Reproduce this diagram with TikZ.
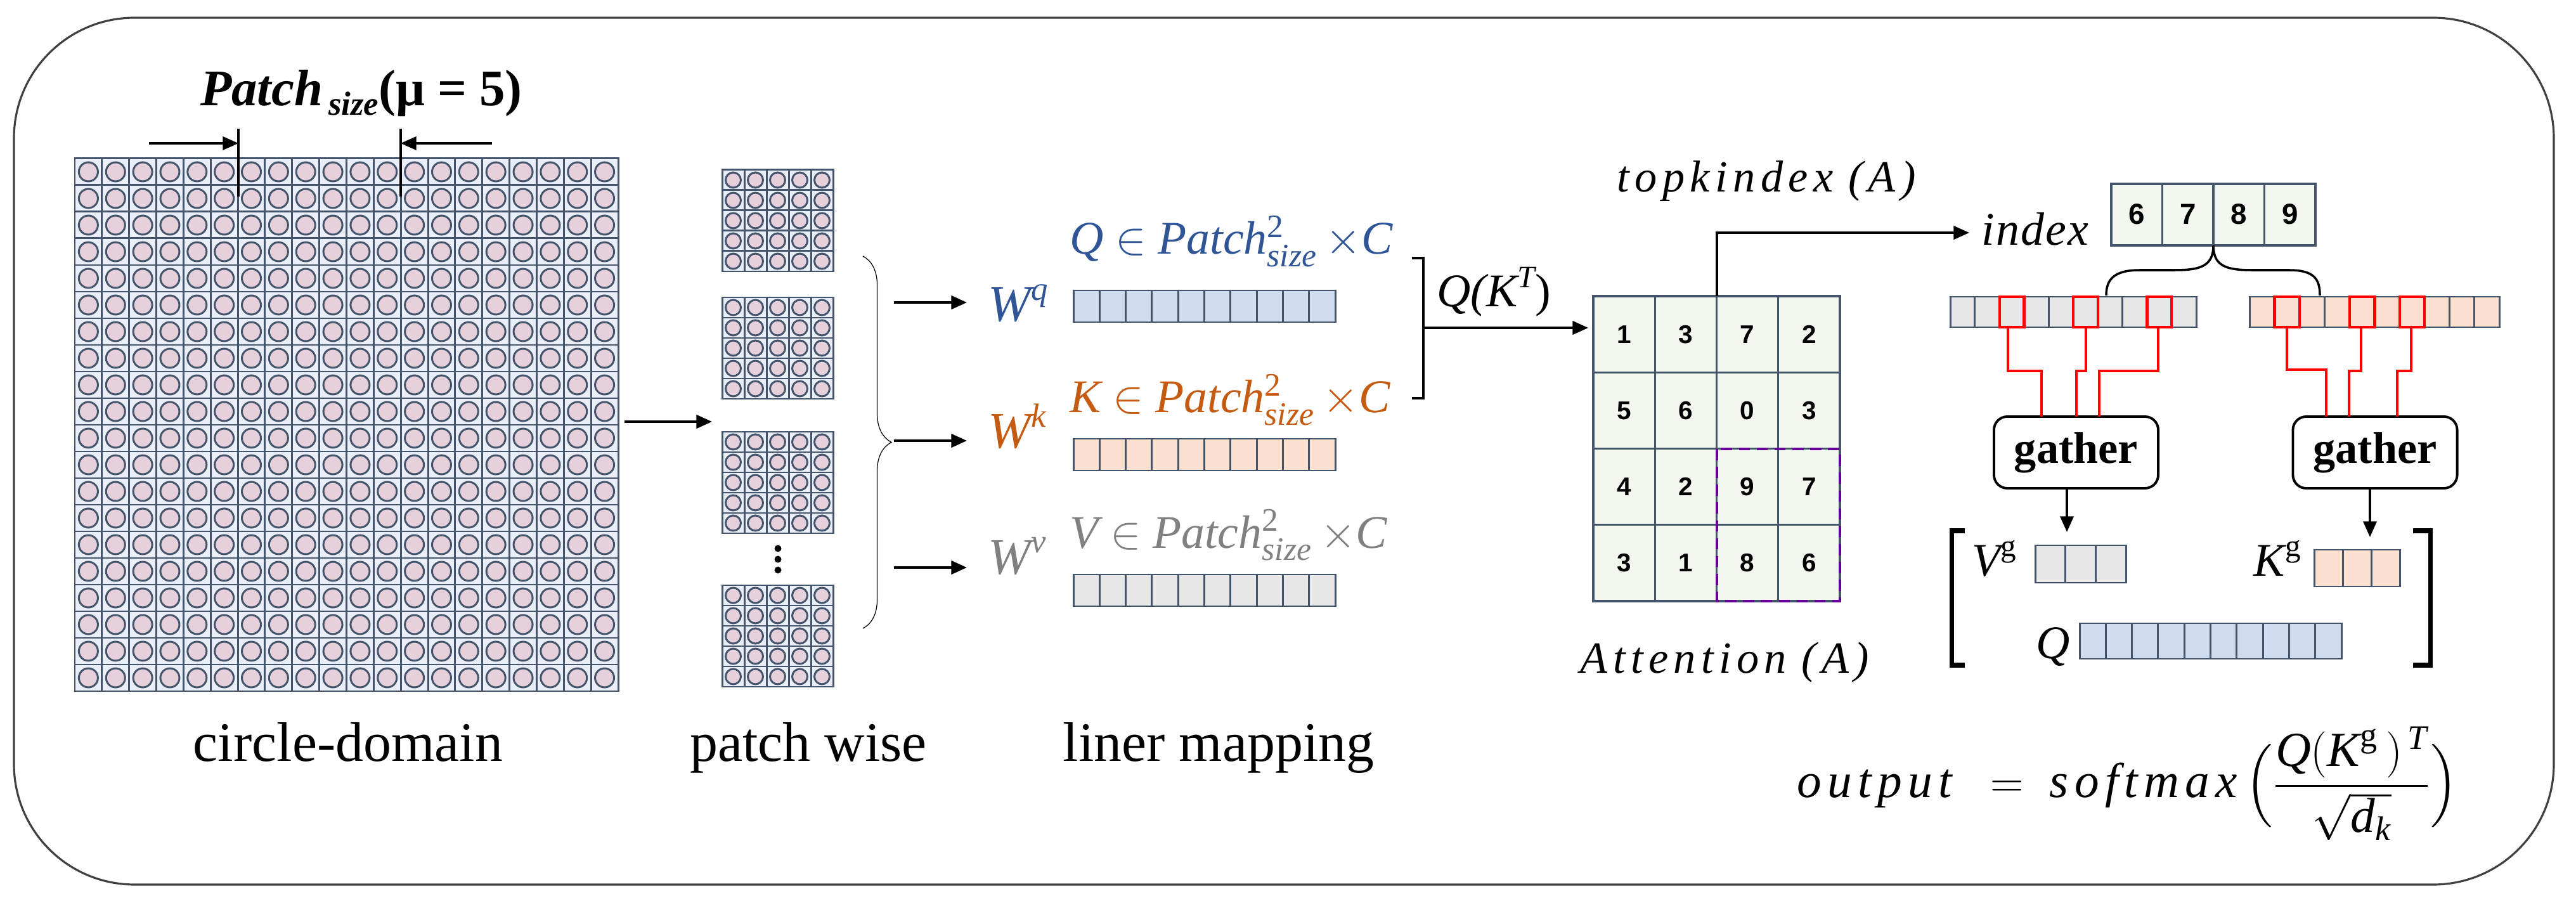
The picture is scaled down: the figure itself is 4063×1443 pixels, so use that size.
\documentclass[tikz,border=0pt]{standalone}
\usepackage{fontspec}
\usepackage{amsmath}
\setmainfont{Liberation Serif}
\newfontfamily\numfont{Liberation Sans}
\usetikzlibrary{decorations.pathreplacing,arrows.meta}
\definecolor{stk}{HTML}{44546A}
\definecolor{cellb}{HTML}{E9EEF8}
\definecolor{circp}{HTML}{E6D0DC}
\definecolor{qblue}{HTML}{2F5597}
\definecolor{korange}{HTML}{C55A11}
\definecolor{vgray}{HTML}{808080}
\definecolor{qfill}{HTML}{D0DCEF}
\definecolor{kfill}{HTML}{FBE0D0}
\definecolor{vfill}{HTML}{E7E7E7}
\definecolor{afill}{HTML}{F2F7EF}
\newcommand\cgrid[7]{% x0 y0 cols rows cw ch radius
  \foreach \i in {1,...,#3}{\foreach \j in {1,...,#4}{
    \filldraw[fill=cellb,draw=stk,line width=0.85pt] ({#1+(\i-1)*#5},{#2+(\j-1)*#6}) rectangle ++(#5,#6);
    \filldraw[fill=circp,draw=stk,line width=0.85pt] ({#1+(\i-0.5)*#5},{#2+(\j-0.5)*#6}) circle[radius=#7];}}}
\newcommand\cellrow[6]{% x0 y0 n w h fill
  \foreach \i in {1,...,#3}{
    \filldraw[fill=#6,draw=stk,line width=0.85pt] ({#1+(\i-1)*#4},#2) rectangle ++(#4,#5);}}
\tikzset{
  arr/.style={line width=1.1pt,-{Triangle[length=7pt,width=6pt]}},
  lbl/.style={font=\fontsize{21pt}{24pt}\selectfont\itshape,inner sep=0pt},
  capt/.style={font=\fontsize{25pt}{28pt}\selectfont,inner sep=0pt,anchor=base},
  redl/.style={red,line width=0.9pt},
  redb/.style={red,line width=1.2pt},
  gbox/.style={draw,line width=1.1pt,rounded corners=6pt,minimum width=2.59cm,minimum height=1.13cm,font=\fontsize{20pt}{24pt}\selectfont\bfseries,inner sep=0pt},
  num/.style={font=\numfont\bfseries\fontsize{11.5pt}{13pt}\selectfont},
  sp/.style={font=\fontsize{20pt}{24pt}\selectfont\itshape\addfontfeature{LetterSpace=12},inner sep=0pt}
}
\begin{document}
\begin{tikzpicture}[x=0.01cm,y=-0.01cm]
\useasboundingbox (0,0) rectangle (4063,1443);
\draw[color=black!75,line width=0.9pt,rounded corners=1.9cm] (22,28) rectangle (4028,1395);

% circle domain
\cgrid{118}{250}{20}{20}{42.85}{42}{0.15cm}
\node[font=\fontsize{23pt}{26pt}\selectfont\bfseries\itshape,anchor=base,inner sep=0pt] (pl) at (570,167)
  {Patch\raisebox{-0.4ex}{\fontsize{15pt}{16pt}\selectfont\,size}\upshape(μ = 5)};
\coordinate (v1t) at (376,203); \coordinate (v1b) at (376,310);
\coordinate (v2t) at (632,203); \coordinate (v2b) at (632,310);
\draw[line width=1pt] (v1t) -- (v1b); \draw[line width=1pt] (v2t) -- (v2b);
\coordinate (a1s) at (235,226); \coordinate (a2s) at (776,226);
\draw[arr,line width=0.9pt] (a1s) -- (376,226);
\draw[arr,line width=0.9pt] (a2s) -- (632,226);
\node[capt] (cd) at (549,1200) {circle-domain};

% patch wise
\coordinate (gout) at (985,665); \coordinate (pin) at (1123,665);
\draw[arr] (gout) -- (pin);
\cgrid{1139}{268}{5}{5}{35}{32}{0.12cm}
\cgrid{1139}{469}{5}{5}{35}{32}{0.12cm}
\cgrid{1139}{681}{5}{5}{35}{32}{0.12cm}
\cgrid{1139}{923}{5}{5}{35}{32}{0.12cm}
\foreach \yy in {865,882,899} \fill (1227,\yy) circle[radius=0.055cm];
\node[capt] (pw) at (1275,1200) {patch wise};
\draw[line width=0.35pt,decorate,decoration={brace,amplitude=0.45cm}] (1361,404) -- (1361,991);
\foreach \yy/\nm in {477/q,695/k,895/v} {
  \coordinate (s\nm) at (1410,\yy); \coordinate (e\nm) at (1525,\yy);
  \draw[arr] (s\nm) -- (e\nm);}
\node[lbl,text=qblue,anchor=base west,font=\fontsize{23pt}{24pt}\selectfont\itshape] (wq) at (1558,507) {W\raisebox{0.9ex}{\fontsize{15pt}{15pt}\selectfont q}};
\node[lbl,text=korange,anchor=base west,font=\fontsize{23pt}{24pt}\selectfont\itshape] (wk) at (1558,707) {W\raisebox{0.9ex}{\fontsize{15pt}{15pt}\selectfont k}};
\node[lbl,text=vgray,anchor=base west,font=\fontsize{23pt}{24pt}\selectfont\itshape] (wv) at (1558,905) {W\raisebox{0.9ex}{\fontsize{15pt}{15pt}\selectfont v}};
\cellrow{1693}{458}{10}{41.3}{50}{qfill}
\cellrow{1693}{692}{10}{41.3}{50}{kfill}
\cellrow{1693}{906}{10}{41.3}{50}{vfill}
\node[lbl,text=qblue,anchor=base west] (ql) at (1687,401) {Q $\in$ Patch$^{\text{\upshape 2}}_{\text{size}}$\,\upshape$\times$\itshape C};
\node[lbl,text=korange,anchor=base west] (kl) at (1687,651) {K $\in$ Patch$^{\text{\upshape 2}}_{\text{size}}$\,\upshape$\times$\itshape C};
\node[lbl,text=vgray,anchor=base west] (vl) at (1687,864) {V $\in$ Patch$^{\text{\upshape 2}}_{\text{size}}$\,\upshape$\times$\itshape C};
\node[capt] (lm) at (1922,1200) {liner mapping};

% Q(K^T)
\draw[line width=1.1pt] (2227,407) -- (2245,407) -- (2245,628) -- (2227,628);
\coordinate (qks) at (2245,517); \coordinate (qke) at (2505,517);
\draw[arr] (qks) -- (qke);
\node[lbl,anchor=base] (qkt) at (2356,484) {Q(K\raisebox{0.9ex}{\fontsize{14pt}{14pt}\selectfont T}\upshape)};

% attention grid
\foreach \r [count=\j from 0] in {{1,3,7,2},{5,6,0,3},{4,2,9,7},{3,1,8,6}}{
  \foreach \v [count=\i from 0] in \r {
    \filldraw[fill=afill,draw=stk,line width=0.9pt] ({2513+\i*97.25},{467+\j*120.25}) rectangle ++(97.25,120.25);
    \node[num] at ({2513+(\i+0.5)*97.25},{467+(\j+0.5)*120.25}) {\v};}}
\draw[dashed,line width=1.2pt,color=violet!80!blue,dash pattern=on 5pt off 3pt] (2708,708) rectangle (2902,948);
\node[sp,anchor=base west] (tk) at (2550,303) {topkindex\,\,(A)};
\node[sp,anchor=base west] (at) at (2492,1061) {Attention\,\,(A)};
\coordinate (topA) at (2708,467);
\node[lbl,anchor=base west] (idx) at (3125,387) {\addfontfeature{LetterSpace=3}index};
\draw[arr,line width=1pt] (topA) |- (3106,367);

% index cells
\foreach \v [count=\i from 0] in {6,7,8,9}{
  \filldraw[fill=afill,draw=stk,line width=0.9pt] ({3330+\i*80.5},290) rectangle ++(80.5,97);
  \node[num,font=\numfont\bfseries\fontsize{13pt}{14pt}\selectfont] at ({3330+(\i+0.5)*80.5},338) {\v};}
\coordinate (ib) at (3491,387);
\draw[line width=1pt] (ib) .. controls (3491,420) and (3470,426) .. (3430,426) -- (3375,426) .. controls (3335,426) and (3322,440) .. (3322,466);
\draw[line width=1pt] (ib) .. controls (3491,420) and (3512,426) .. (3552,426) -- (3610,426) .. controls (3650,426) and (3659,440) .. (3659,466);

% gathered bars
\cellrow{3076}{468}{10}{38.8}{48}{vfill}
\cellrow{3548}{468}{10}{39.4}{48}{kfill}
\foreach \xx in {3153.6,3270,3386.4} \draw[redb] (\xx,468) rectangle ++(38.8,48);
\foreach \xx in {3587.4,3706,3784.8} \draw[redb] (\xx,468) rectangle ++(39.4,48);
\node[gbox] (g1) at (3274.5,713.5) {gather};
\node[gbox] (g2) at (3746,713.5) {gather};
\draw[redl] (3167,516) |- (3220,585) -- (3220,657);
\draw[redl] (3290,516) -- (3290,585) -- (3275,585) -- (3275,657);
\draw[redl] (3404,516) -- (3404,585) -- (3311,585) -- (3311,657);
\draw[redl] (3607,516) |- (3669,583) -- (3669,657);
\draw[redl] (3724,516) -- (3724,585) -- (3705,585) -- (3705,657);
\draw[redl] (3803,516) -- (3803,585) -- (3781,585) -- (3781,657);
\coordinate (vgt) at (3260,839); \coordinate (kgt) at (3738,847);
\draw[arr,line width=0.9pt] (g1.south -| vgt) -- (vgt);
\draw[arr,line width=0.9pt] (g2.south -| kgt) -- (kgt);

% big bracket
\draw[line width=2pt] (3099,837) -- (3078,837) -- (3078,1049) -- (3099,1049);
\draw[line width=2pt] (3806,837) -- (3833,837) -- (3833,1049) -- (3806,1049);
\node[lbl,anchor=base west] (vg) at (3110,908) {V\raisebox{0.9ex}{\fontsize{14pt}{14pt}\selectfont\upshape g}};
\node[lbl,anchor=base west] (kg) at (3554,908) {K\raisebox{0.9ex}{\fontsize{14pt}{14pt}\selectfont\upshape g}};
\node[lbl,anchor=base west] (qg) at (3211,1038) {Q};
\cellrow{3210}{860}{3}{47.7}{59}{vfill}
\cellrow{3650}{867}{3}{45.3}{58}{kfill}
\cellrow{3280}{983}{10}{41.3}{56}{qfill}

% formula
\node[inner sep=0pt,font=\fontsize{22pt}{26pt}\selectfont] (fm) at (3356,1236)
 {\addfontfeature{LetterSpace=12}$\text{\itshape output}\;\;=\;\text{\itshape softmax}\,\Bigl(\dfrac{\text{\itshape Q}(\text{\itshape K}^{\text{g}}\,)^{\,\text{\itshape T}}}{\sqrt{\text{\itshape d}_{\text{\itshape k}}}}\Bigr)$};
\end{tikzpicture}
\end{document}
